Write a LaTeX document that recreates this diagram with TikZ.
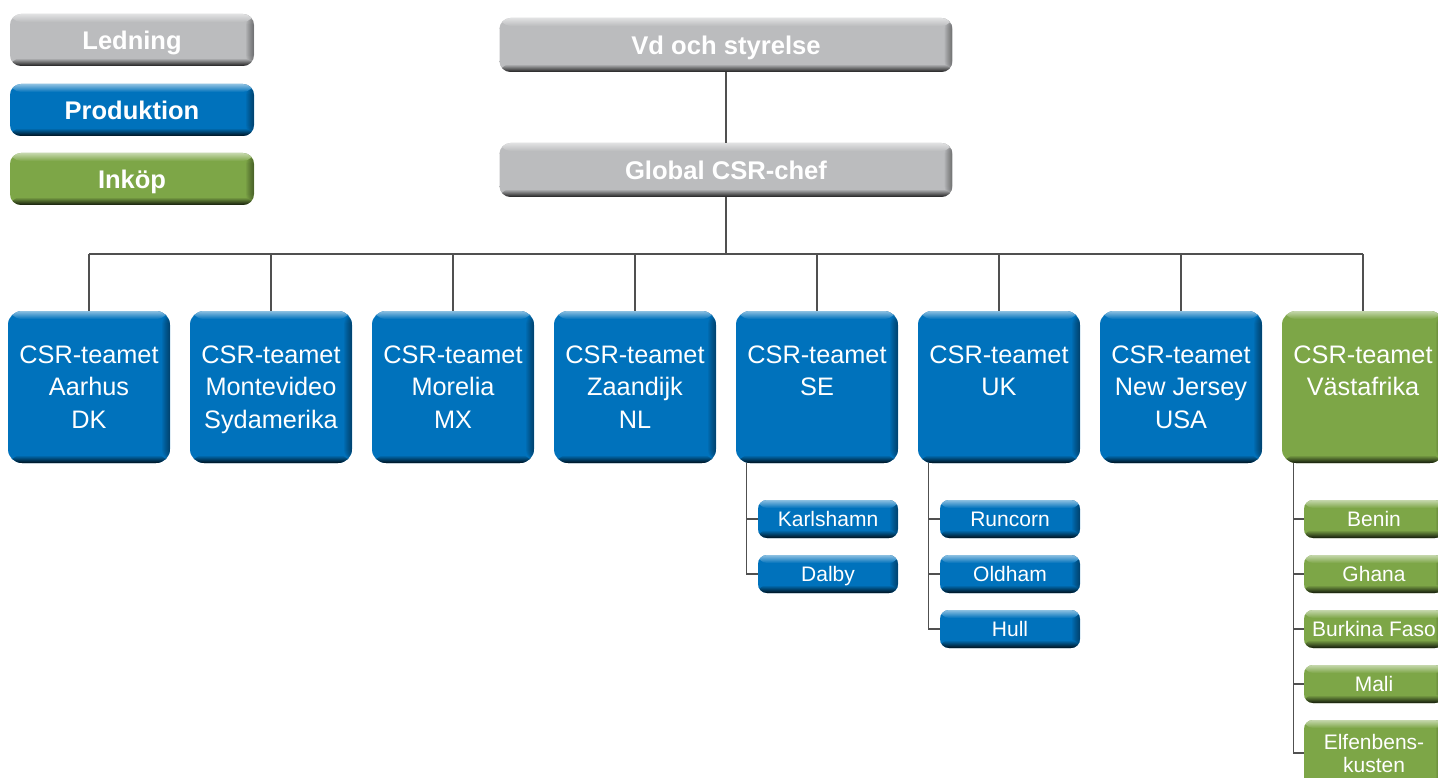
\documentclass[tikz,border=0pt]{standalone}
\usepackage{fontspec}
\setmainfont{Liberation Sans}
\definecolor{ledgray}{HTML}{BBBCBE}
\definecolor{prodblue}{HTML}{0072BC}
\definecolor{inkgreen}{HTML}{7DA647}
\definecolor{linegray}{HTML}{505050}
\tikzset{
  boxbase/.style={rectangle, draw=none, inner sep=0pt, text=white, align=center, fill=#1,
    path picture={
      \foreach \w in {1,2,3,4,5,6,7,8} {
        \fill[black, fill opacity=0.055]
          ([xshift=-\w pt]path picture bounding box.north east) rectangle (path picture bounding box.south east);
      }
      \shade[top color=#1!45!white, bottom color=#1]
        (path picture bounding box.north west) rectangle ([yshift=-8pt]path picture bounding box.north east);
      \shade[top color=#1, bottom color=#1!15!black]
        ([yshift=8pt]path picture bounding box.south west) rectangle (path picture bounding box.south east);
    }},
  capcenter/.style={text height=#1, text depth=0pt},
  bigbox/.style={boxbase=#1, text depth=0pt, rounded corners=14pt, minimum width=162pt, minimum height=152pt,
    font=\fontsize{25.3}{32.5}\selectfont},
  subbox/.style={boxbase=#1, rounded corners=9pt, minimum width=140pt, minimum height=38pt,
    font=\fontsize{21}{23}\selectfont},
  subcap/.style={capcenter=15pt},
  headbox/.style={boxbase=ledgray, capcenter=18.3pt, rounded corners=11pt, minimum width=453pt, minimum height=54pt,
    font=\bfseries\fontsize{25.6}{30}\selectfont},
  legbox/.style={boxbase=#1, capcenter=18.3pt, rounded corners=11pt, minimum width=244pt, minimum height=52pt,
    font=\bfseries\fontsize{25.5}{30}\selectfont},
  conn/.style={draw=linegray, line width=1.2pt},
}
\begin{document}
\begin{tikzpicture}[x=1pt, y=-1pt]
\useasboundingbox (0,0) rectangle (1438,778);
\clip (0,0) rectangle (1438,778);
\fill[white] (0,0) rectangle (1438,778);

% legend
\node[legbox=ledgray]  (leg1) at (132,40)  {Ledning};
\node[legbox=prodblue] (leg2) at (132,110) {Produktion};
\node[legbox=inkgreen] (leg3) at (132,179) {Inköp};

% head
\node[headbox] (vd) at (726,45)  {Vd och styrelse};
\node[headbox] (gc) at (726,170) {Global CSR-chef};
\coordinate (bus) at (726,254);

% teams
\node[bigbox=prodblue] (b1) at (89,387)   {CSR-teamet\\Aarhus\\DK};
\node[bigbox=prodblue] (b2) at (271,387)  {CSR-teamet\\Montevideo\\Sydamerika};
\node[bigbox=prodblue] (b3) at (453,387)  {CSR-teamet\\Morelia\\MX};
\node[bigbox=prodblue] (b4) at (635,387)  {CSR-teamet\\Zaandijk\\NL};
\node[bigbox=prodblue] (b5) at (817,387)  {CSR-teamet\\SE\\\phantom{X}};
\node[bigbox=prodblue] (b6) at (999,387)  {CSR-teamet\\UK\\\phantom{X}};
\node[bigbox=prodblue] (b7) at (1181,387) {CSR-teamet\\New Jersey\\USA};
\node[bigbox=inkgreen] (b8) at (1363,387) {CSR-teamet\\Västafrika\\\phantom{X}};

% sub units
\node[subbox=prodblue, subcap] (karl) at (828,519) {Karlshamn};
\node[subbox=prodblue, subcap] (dalb) at (828,574) {Dalby};
\node[subbox=prodblue, subcap] (runc) at (1010,519) {Runcorn};
\node[subbox=prodblue, subcap] (oldh) at (1010,574) {Oldham};
\node[subbox=prodblue, subcap] (hull) at (1010,629) {Hull};
\node[subbox=inkgreen, subcap] (beni) at (1374,519) {Benin};
\node[subbox=inkgreen, subcap] (ghan) at (1374,574) {Ghana};
\node[subbox=inkgreen, subcap] (burk) at (1374,629) {Burkina Faso};
\node[subbox=inkgreen, subcap] (mali) at (1374,684) {Mali};
\node[subbox=inkgreen, minimum height=66pt] (elfb) at (1374,753) {Elfenbens-\\kusten};

% connectors
\draw[conn] (vd.south) -- (gc.north);
\draw[conn] (gc.south) -- (bus);
\draw[conn] (b1.north |- bus) -- (b8.north |- bus);
\foreach \b in {b1,b2,b3,b4,b5,b6,b7,b8} {
  \draw[conn] (\b.north |- bus) -- (\b.north);
}
\coordinate (tse) at ([xshift=11pt]b5.south west);
\coordinate (tuk) at ([xshift=11pt]b6.south west);
\coordinate (tva) at ([xshift=12pt]b8.south west);
\draw[conn] (tse) |- (dalb.west);
\draw[conn] (tse |- karl.west) -- (karl.west);
\draw[conn] (tuk) |- (hull.west);
\draw[conn] (tuk |- runc.west) -- (runc.west);
\draw[conn] (tuk |- oldh.west) -- (oldh.west);
\draw[conn] (tva) |- (elfb.west);
\foreach \s in {beni,ghan,burk,mali} {
  \draw[conn] (tva |- \s.west) -- (\s.west);
}
\end{tikzpicture}
\end{document}
